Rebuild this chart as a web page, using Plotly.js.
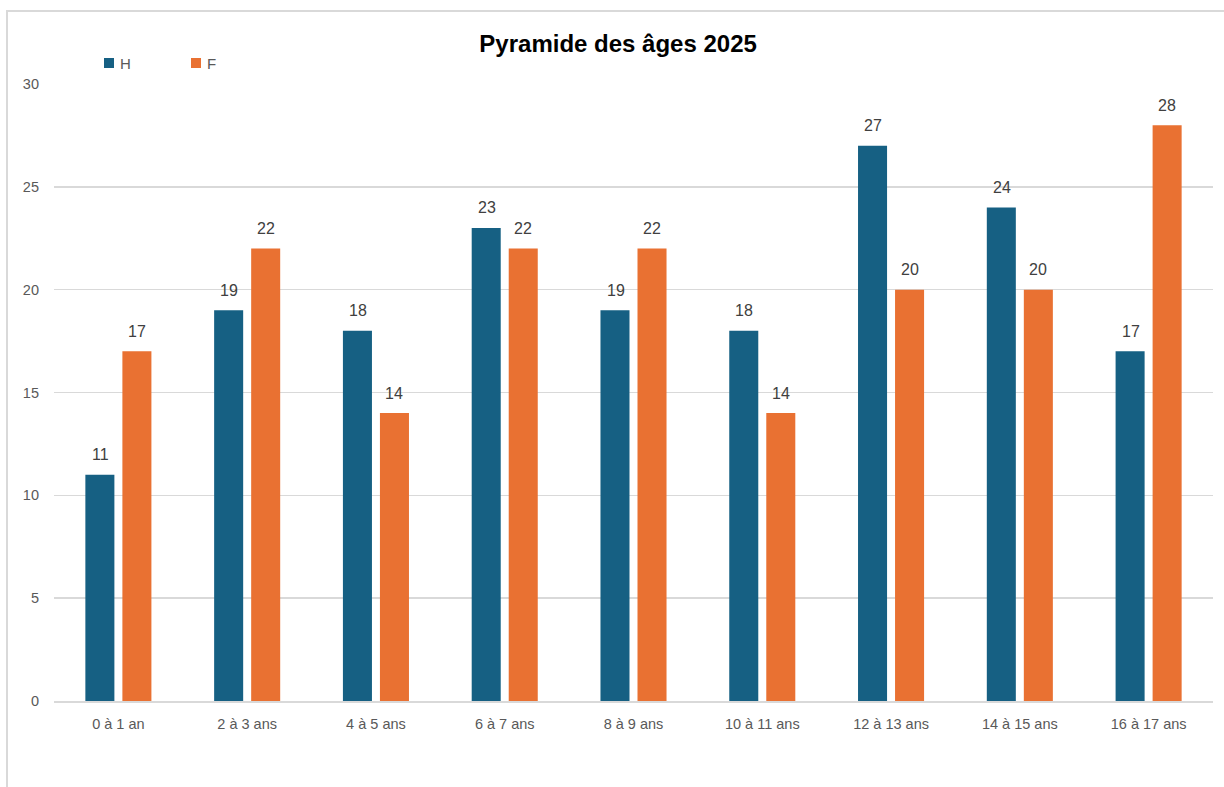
<!DOCTYPE html>
<html><head><meta charset="utf-8">
<script src="https://cdn.plot.ly/plotly-3.0.1.min.js"></script>
<style>
html,body{margin:0;padding:0;background:#fff;}
#chart{position:absolute;left:0;top:0;width:1224px;height:787px;}
#frame{position:absolute;left:6px;top:10px;width:1240px;height:800px;border:2px solid #d9d9d9;pointer-events:none;}
</style></head>
<body>
<div id="chart"></div>
<div id="frame"></div>
<script>
const categories = ["0 à 1 an","2 à 3 ans","4 à 5 ans","6 à 7 ans","8 à 9 ans","10 à 11 ans","12 à 13 ans","14 à 15 ans","16 à 17 ans"];
const valuesH = [11,19,18,23,19,18,27,24,17];
const valuesF = [17,22,14,22,22,14,20,20,28];
const yTicks = [0,5,10,15,20,25,30];
const seriesNames = ["H","F"];
const seriesColors = ["#166083","#e97132"];

const font = "Liberation Sans, Arial, sans-serif";
const labelFont = {family: font, size: 16, color: "#404040"};

const traces = [
  {type:"bar", name:seriesNames[0], x:categories, y:valuesH, marker:{color:seriesColors[0]}, hoverinfo:"none", showlegend:false},
  {type:"bar", name:seriesNames[1], x:categories, y:valuesF, marker:{color:seriesColors[1]}, hoverinfo:"none", showlegend:false}
];

// data labels above bars
const annotations = [];
[valuesH, valuesF].forEach((vals, s) => {
  vals.forEach((v, i) => {
    annotations.push({x:categories[i], y:v, xref:"x", yref:"y", text:String(v), showarrow:false,
      xshift: s === 0 ? -18 : 18.5, yshift:20, yanchor:"middle", xanchor:"center", font:labelFont});
  });
});

// manual legend
const shapes = [];
const legendX = [104, 191];
seriesNames.forEach((n, s) => {
  const x0 = (legendX[s] - 54) / 1159;
  const x1 = (legendX[s] + 10 - 54) / 1159;
  shapes.push({type:"rect", xref:"paper", yref:"paper", x0:x0, x1:x1,
    y0:(701 - 68) / 617, y1:(701 - 58) / 617, fillcolor:seriesColors[s], line:{width:0}});
  annotations.push({xref:"paper", yref:"paper", x:(legendX[s] + 14 - 54) / 1159, y:(701 - 63) / 617,
    text:n, showarrow:false, xanchor:"left", yanchor:"middle",
    font:{family:font, size:15, color:"#595959"}});
});

const layout = {
  width:1224, height:787,
  margin:{l:54, r:11, t:84, b:86},
  paper_bgcolor:"rgba(0,0,0,0)", plot_bgcolor:"#fff",
  title:{text:"<b>Pyramide des âges 2025</b>", x:0.505, xanchor:"center", y:0.945, yanchor:"middle",
         font:{family:font, size:24, color:"#000"}},
  barmode:"group", bargap:0.425, bargroupgap:0.216,
  showlegend:false,
  annotations:annotations, shapes:shapes,
  xaxis:{type:"category", tickfont:{family:font, size:14.5, color:"#595959"}, showgrid:false,
         showline:true, linecolor:"#d9d9d9", linewidth:1.5, ticks:"", ticklen:0, ticklabelstandoff:9, automargin:false},
  yaxis:{range:[0,30], tickvals:yTicks, ticktext:yTicks.map(String),
         tickfont:{family:font, size:14.5, color:"#595959"}, gridcolor:"#d9d9d9", gridwidth:1.5,
         zeroline:false, showline:false, ticks:"", ticklabelstandoff:14, automargin:false}
};

Plotly.newPlot("chart", traces, layout, {displayModeBar:false, staticPlot:true});
</script>
</body></html>
